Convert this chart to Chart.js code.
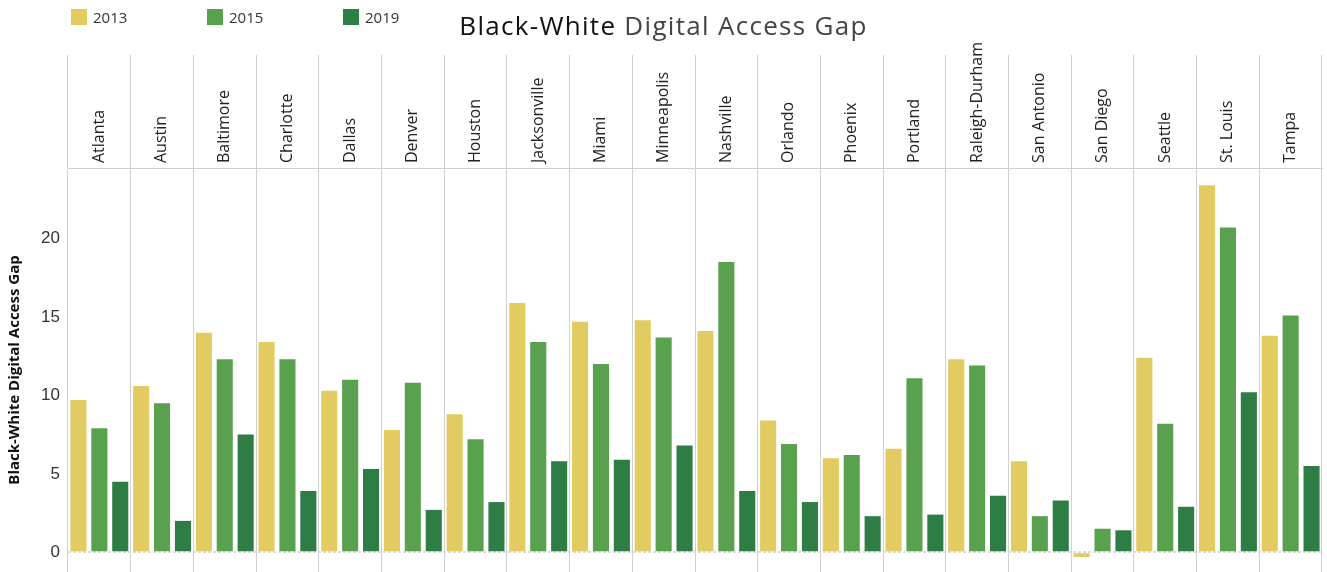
<!DOCTYPE html>
<html>
<head>
<meta charset="utf-8">
<script src="https://cdn.jsdelivr.net/npm/chart.js@4.4.1/dist/chart.umd.min.js"></script>
<style>
  body { margin: 0; background: #fff; font-family: 'Open Sans', sans-serif; }
  #wrap { position: relative; width: 1327px; height: 572px; }
  #title { position: absolute; left: 0; top: 7px; width: 1327px; text-align: center; font-size: 26px; letter-spacing: 1.3px; color: #444; }
  #title span { color: #111; }
  #legend { position: absolute; left: 71px; top: 7px; display: flex; }
  .item { display: flex; align-items: center; width: 136px; font-size: 15px; color: #333; }
  .box { width: 16px; height: 16px; margin-right: 6px; }
</style>
</head>
<body>
<div id="wrap">
    <canvas id="gapChart"></canvas>
    <div id="legend"></div>
    <div id="title"><span>Black-White</span> Digital Access Gap</div>
</div>
<script>
// Data
const cities = ['Atlanta', 'Austin', 'Baltimore', 'Charlotte', 'Dallas', 'Denver', 'Houston',
    'Jacksonville', 'Miami', 'Minneapolis', 'Nashville', 'Orlando', 'Phoenix', 'Portland',
    'Raleigh-Durham', 'San Antonio', 'San Diego', 'Seattle', 'St. Louis', 'Tampa'];
const years = ['2013', '2015', '2019'];
const gap2013 = [9.7, 10.6, 14.0, 13.4, 10.3, 7.8, 8.8, 15.9, 14.7, 14.8, 14.1, 8.4, 6.0, 6.6, 12.3, 5.8, -0.3, 12.4, 23.4, 13.8];
const gap2015 = [7.9, 9.5, 12.3, 12.3, 11.0, 10.8, 7.2, 13.4, 12.0, 13.7, 18.5, 6.9, 6.2, 11.1, 11.9, 2.3, 1.5, 8.2, 20.7, 15.1];
const gap2019 = [4.5, 2.0, 7.5, 3.9, 5.3, 2.7, 3.2, 5.8, 5.9, 6.8, 3.9, 3.2, 2.3, 2.4, 3.6, 3.3, 1.4, 2.9, 10.2, 5.5];
const colors = ['#e2cb61', '#59a14f', '#2e7d45'];
const yTicks = [0, 5, 10, 15, 20];

// HTML legend
const legend = document.getElementById('legend');
years.forEach((y, i) => {
    const it = document.createElement('div');
    it.className = 'item';
    it.innerHTML = '<div class="box" style="background:' + colors[i] + '"></div>' + y;
    legend.appendChild(it);
});

new Chart(document.getElementById('gapChart').getContext('2d'), {
    type: 'bar',
    data: {
        labels: cities,
        datasets: [gap2013, gap2015, gap2019].map((d, i) => ({
            label: years[i],
            data: d,
            backgroundColor: colors[i],
            borderWidth: 0,
            categoryPercentage: 1.0,
            barPercentage: 0.77
        }))
    },
    options: {
        responsive: true,
        maintainAspectRatio: false,
        animation: false,
        layout: { padding: { top: 20, right: 5, left: 0, bottom: 0 } },
        plugins: {
            legend: { display: false },
            tooltip: { enabled: true }
        },
        scales: {
            x: {
                position: 'top',
                afterFit: (s) => { s.height = 148; },
                grid: { offset: true, color: '#d0d0d0', lineWidth: 1, drawTicks: true, tickLength: 113 },
                border: { color: '#d0d0d0' },
                ticks: {
                    autoSkip: false,
                    minRotation: 90,
                    maxRotation: 90,
                    padding: -108,
                    labelOffset: 19,
                    color: '#222',
                    font: { family: 'Open Sans', size: 16 }
                }
            },
            y: {
                min: -1.26,
                max: 24.5,
                afterFit: (s) => { s.width = 68; s.paddingTop = 0; s.paddingBottom = 0; },
                afterBuildTicks: (s) => { s.ticks = yTicks.map(v => ({ value: v })); },
                grid: {
                    drawTicks: false,
                    lineWidth: 2,
                    color: (ctx) => ctx.tick && ctx.tick.value === 0 ? '#dcdcdc' : 'rgba(0,0,0,0)'
                },
                border: { display: false, dash: [3, 2] },
                ticks: {
                    padding: 8,
                    color: '#333',
                    font: { family: 'Liberation Sans', size: 17 }
                },
                title: {
                    display: true,
                    text: 'Black-White Digital Access Gap',
                    color: '#111',
                    font: { family: 'Open Sans', size: 15, weight: 'bold' },
                    padding: { top: 6, bottom: 0 }
                }
            }
        }
    }
});
</script>
</body>
</html>
